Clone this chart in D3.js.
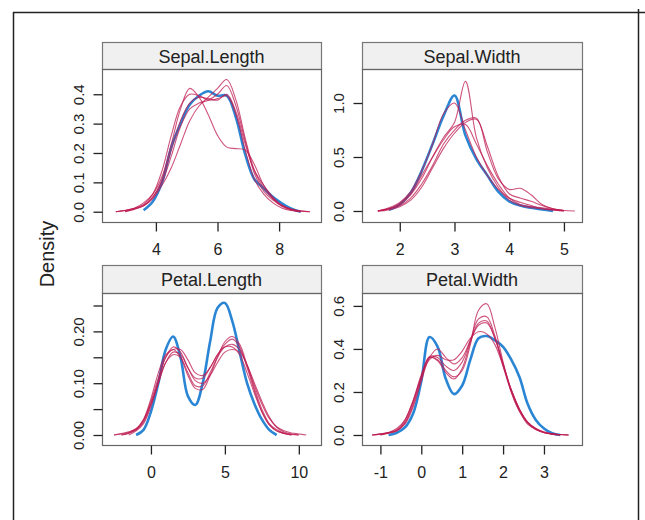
<!DOCTYPE html>
<html><head><meta charset="utf-8">
<script src="https://cdn.jsdelivr.net/npm/d3@7"></script>
<style>html,body{margin:0;padding:0;background:#fff;}svg{display:block;}</style>
</head><body>
<svg id="chart" width="645" height="520"></svg>
<script>
// ---------- DATA ----------
const panelNames = ["Sepal.Length", "Sepal.Width", "Petal.Length", "Petal.Width"];
const yLabel = "Density";

// Sepal.Length
const slX = [2.7,3.0,3.3,3.6,3.9,4.2,4.5,4.8,5.1,5.4,5.7,6.0,6.3,6.6,6.9,7.2,7.5,7.8,8.1,8.4,8.7,9.0];
const slObs = [null,null,null,0.005,0.035,0.10,0.22,0.30,0.365,0.395,0.41,0.395,0.395,0.32,0.195,0.11,0.08,0.05,0.028,0.01,0.0,null];
const slImp1 = [0.0,0.004,0.012,0.03,0.06,0.12,0.23,0.35,0.42,0.39,0.33,0.26,0.22,0.215,0.21,0.16,0.09,0.045,0.018,0.006,0.0,null];
const slImp2 = [null,0.0,0.01,0.02,0.045,0.09,0.15,0.23,0.31,0.36,0.39,0.42,0.45,0.38,0.25,0.14,0.08,0.045,0.02,0.008,0.003,0.0];
const slImp3 = [0.0,0.005,0.012,0.025,0.06,0.14,0.26,0.36,0.40,0.395,0.38,0.385,0.395,0.33,0.21,0.11,0.06,0.03,0.012,0.004,0.0,null];
const slImp4 = [null,0.0,0.008,0.02,0.05,0.10,0.19,0.29,0.35,0.37,0.38,0.40,0.43,0.36,0.24,0.13,0.07,0.04,0.02,0.008,0.002,0.0];
const slImp5 = [0.0,0.004,0.01,0.022,0.05,0.11,0.21,0.31,0.37,0.39,0.385,0.38,0.40,0.34,0.23,0.14,0.09,0.05,0.022,0.008,0.0,null];

// Sepal.Width
const swX = [1.6,1.8,2.0,2.2,2.4,2.6,2.8,3.0,3.2,3.4,3.6,3.8,4.0,4.2,4.4,4.6,4.8,5.0,5.2];
const swObs = [null,0.01,0.06,0.17,0.37,0.62,0.88,1.07,0.70,0.48,0.33,0.18,0.09,0.05,0.03,0.015,0.0,null,null];
const swImp1 = [0.0,0.02,0.06,0.15,0.30,0.50,0.68,0.82,1.20,0.68,0.40,0.22,0.10,0.05,0.03,0.02,0.01,0.0,null];
const swImp2 = [0.0,0.02,0.05,0.12,0.25,0.42,0.62,0.75,0.84,0.86,0.55,0.30,0.20,0.21,0.15,0.06,0.02,0.005,null];
const swImp3 = [0.0,0.03,0.08,0.18,0.37,0.62,0.90,1.00,0.75,0.50,0.33,0.20,0.12,0.08,0.05,0.02,0.01,0.0,null];
const swImp4 = [0.0,0.02,0.07,0.16,0.33,0.50,0.66,0.78,0.80,0.62,0.42,0.25,0.12,0.06,0.04,0.03,0.015,0.005,0.0];
const swImp5 = [0.0,0.01,0.04,0.10,0.22,0.40,0.58,0.72,0.82,0.85,0.60,0.32,0.16,0.12,0.09,0.05,0.02,0.005,null];

// Petal.Length
const plX = [-2.5,-2,-1.5,-1,-0.5,0,0.5,1,1.5,2,2.5,3,3.5,4,4.5,5,5.5,6,6.5,7,7.5,8,8.5,9,9.5,10,10.5];
const plObs = [null,null,null,0.0,0.01,0.045,0.10,0.165,0.19,0.15,0.075,0.058,0.10,0.18,0.245,0.255,0.22,0.16,0.10,0.06,0.03,0.01,0.0,null,null,null,null];
const plImp1 = [0.0,0.003,0.006,0.012,0.03,0.065,0.11,0.15,0.17,0.16,0.13,0.11,0.11,0.13,0.155,0.175,0.185,0.17,0.13,0.085,0.045,0.02,0.008,0.003,0.0,null,null];
const plImp2 = [null,0.0,0.004,0.01,0.025,0.06,0.105,0.15,0.165,0.15,0.115,0.09,0.088,0.115,0.15,0.18,0.19,0.175,0.135,0.09,0.05,0.022,0.01,0.004,0.001,0.0,null];
const plImp3 = [null,null,0.0,0.008,0.022,0.055,0.10,0.14,0.16,0.155,0.13,0.105,0.10,0.115,0.14,0.16,0.165,0.16,0.135,0.10,0.065,0.035,0.015,0.006,0.002,0.0,null];
const plImp4 = [0.0,0.002,0.005,0.012,0.03,0.07,0.12,0.155,0.165,0.165,0.145,0.12,0.115,0.13,0.155,0.17,0.17,0.155,0.12,0.08,0.045,0.02,0.008,0.003,0.0,null,null];
const plImp5 = [null,0.0,0.003,0.01,0.028,0.06,0.10,0.14,0.155,0.15,0.12,0.095,0.095,0.12,0.15,0.17,0.175,0.165,0.135,0.095,0.06,0.032,0.016,0.008,0.004,0.002,0.0];

// Petal.Width
const pwX = [-1.2,-1.0,-0.8,-0.6,-0.4,-0.2,0.0,0.2,0.4,0.6,0.8,1.0,1.2,1.4,1.6,1.8,2.0,2.2,2.4,2.6,2.8,3.0,3.2,3.4,3.6];
const pwObs = [null,null,0.0,0.01,0.035,0.10,0.25,0.455,0.41,0.26,0.19,0.23,0.35,0.45,0.46,0.44,0.41,0.35,0.27,0.145,0.07,0.03,0.008,0.0,null];
const pwImp1 = [0.0,0.005,0.01,0.02,0.06,0.15,0.27,0.36,0.35,0.30,0.27,0.30,0.42,0.58,0.61,0.50,0.34,0.20,0.11,0.05,0.025,0.012,0.005,0.002,0.0];
const pwImp2 = [0.0,0.004,0.012,0.025,0.07,0.16,0.28,0.365,0.36,0.32,0.30,0.34,0.44,0.54,0.55,0.46,0.32,0.20,0.11,0.055,0.025,0.01,0.004,0.0,null];
const pwImp3 = [null,0.0,0.008,0.02,0.05,0.13,0.25,0.36,0.40,0.36,0.33,0.36,0.44,0.51,0.52,0.45,0.33,0.21,0.12,0.06,0.028,0.012,0.005,0.002,0.0];
const pwImp4 = [0.0,0.005,0.012,0.03,0.07,0.16,0.27,0.35,0.37,0.35,0.35,0.39,0.45,0.48,0.47,0.42,0.32,0.21,0.12,0.06,0.03,0.012,0.004,0.0,null];
const pwImp5 = [null,0.0,0.01,0.02,0.055,0.14,0.26,0.36,0.345,0.29,0.26,0.31,0.43,0.52,0.53,0.45,0.33,0.21,0.12,0.06,0.03,0.015,0.006,0.002,0.0];

// tick values and labels
const slXTicks = [4,6,8], slXLabels = ["4","6","8"];
const slYTicks = [0,0.1,0.2,0.3,0.4], slYLabels = ["0.0","0.1","0.2","0.3","0.4"];
const swXTicks = [2,3,4,5], swXLabels = ["2","3","4","5"];
const swYTicks = [0,0.5,1.0], swYLabels = ["0.0","0.5","1.0"];
const plXTicks = [0,5,10], plXLabels = ["0","5","10"];
const plYTicks = [0,0.05,0.10,0.15,0.20,0.25], plYLabels = ["0.00","","0.10","","0.20",""];
const pwXTicks = [-1,0,1,2,3], pwXLabels = ["-1","0","1","2","3"];
const pwYTicks = [0,0.2,0.4,0.6], pwYLabels = ["0.0","0.2","0.4","0.6"];

// ---------- LAYOUT ----------
const svg = d3.select("#chart");
const FONT = "'Liberation Sans', Arial, sans-serif";
const obsColor = "#2a86d4";
const impColor = "rgba(190,25,80,0.75)";

// outer frame
svg.append("line").attr("x1",13).attr("x2",645).attr("y1",12.5).attr("y2",12.5).attr("stroke","#222").attr("stroke-width",1.5);
svg.append("line").attr("x1",13.5).attr("x2",13.5).attr("y1",12).attr("y2",520).attr("stroke","#222").attr("stroke-width",1.5);
svg.append("line").attr("x1",638.5).attr("x2",638.5).attr("y1",9).attr("y2",520).attr("stroke","#222").attr("stroke-width",1.5);

const panels = [
  {name: panelNames[0], x0:102, x1:321, sTop:42, pTop:69, pBot:222, xd:[2.25,9.36], yd:[-0.035,0.486],
   xs: slX, obs: slObs, imps:[slImp1,slImp2,slImp3,slImp4,slImp5], xt: slXTicks, xl: slXLabels, yt: slYTicks, yl: slYLabels},
  {name: panelNames[1], x0:362, x1:582, sTop:42, pTop:69, pBot:222, xd:[1.31,5.33], yd:[-0.102,1.315],
   xs: swX, obs: swObs, imps:[swImp1,swImp2,swImp3,swImp4,swImp5], xt: swXTicks, xl: swXLabels, yt: swYTicks, yl: swYLabels},
  {name: panelNames[2], x0:102, x1:321, sTop:265, pTop:293, pBot:445, xd:[-3.31,11.5], yd:[-0.0193,0.2741],
   xs: plX, obs: plObs, imps:[plImp1,plImp2,plImp3,plImp4,plImp5], xt: plXTicks, xl: plXLabels, yt: plYTicks, yl: plYLabels},
  {name: panelNames[3], x0:362, x1:582, sTop:265, pTop:293, pBot:445, xd:[-1.45,3.93], yd:[-0.0465,0.660],
   xs: pwX, obs: pwObs, imps:[pwImp1,pwImp2,pwImp3,pwImp4,pwImp5], xt: pwXTicks, xl: pwXLabels, yt: pwYTicks, yl: pwYLabels}
];

panels.forEach(p => {
  const g = svg.append("g");
  const x = d3.scaleLinear().domain(p.xd).range([p.x0, p.x1]);
  const y = d3.scaleLinear().domain(p.yd).range([p.pBot, p.pTop]);

  // strip
  g.append("rect").attr("x",p.x0+0.5).attr("y",p.sTop+0.5).attr("width",p.x1-p.x0).attr("height",p.pTop-p.sTop)
    .attr("fill","#f0f0f0").attr("stroke","#777").attr("stroke-width",1.2);
  g.append("text").attr("x",(p.x0+p.x1)/2).attr("y",(p.sTop+p.pTop)/2+1).attr("text-anchor","middle")
    .attr("dominant-baseline","central").attr("font-family",FONT).attr("font-size",18).attr("fill","#222").text(p.name);

  // clip
  const cid = "clip" + p.name.replace(".","");
  svg.append("clipPath").attr("id",cid).append("rect").attr("x",p.x0).attr("y",p.pTop).attr("width",p.x1-p.x0).attr("height",p.pBot-p.pTop);

  const line = d3.line().defined(d => d[1] != null).x(d => x(d[0])).y(d => y(d[1])).curve(d3.curveCatmullRom.alpha(0.5));
  const lg = g.append("g").attr("clip-path",`url(#${cid})`);
  lg.append("path").datum(p.xs.map((v,i)=>[v,p.obs[i]])).attr("d",line).attr("fill","none")
    .attr("stroke",obsColor).attr("stroke-width",2.6).attr("stroke-linejoin","round");
  p.imps.forEach(arr => {
    lg.append("path").datum(p.xs.map((v,i)=>[v,arr[i]])).attr("d",line).attr("fill","none")
      .attr("stroke",impColor).attr("stroke-width",1.1);
  });

  // panel box
  g.append("rect").attr("x",p.x0+0.5).attr("y",p.pTop+0.5).attr("width",p.x1-p.x0).attr("height",p.pBot-p.pTop)
    .attr("fill","none").attr("stroke","#666").attr("stroke-width",1.2);

  // x axis
  const xa = d3.axisBottom(x).tickValues(p.xt).tickSize(9).tickPadding(12).tickFormat((d,i)=>p.xl[i]);
  const xg = g.append("g").attr("transform",`translate(0,${p.pBot+0.5})`).call(xa);
  xg.select(".domain").remove();
  xg.selectAll(".tick line").attr("stroke","#222").attr("stroke-width",1.3);
  xg.selectAll(".tick text").attr("font-family",FONT).attr("font-size",16).attr("fill","#222");

  // y axis
  const ya = d3.axisLeft(y).tickValues(p.yt).tickSize(9).tickFormat((d,i)=>p.yl[i]);
  const yg = g.append("g").attr("transform",`translate(${p.x0+0.5},0)`).call(ya);
  yg.select(".domain").remove();
  yg.selectAll(".tick line").attr("stroke","#222").attr("stroke-width",1.3);
  yg.selectAll(".tick text").attr("font-family",FONT).attr("font-size",15).attr("fill","#222")
    .attr("x",null).attr("dy",null).attr("text-anchor","middle").attr("dominant-baseline","central")
    .attr("transform","translate(-24,0) rotate(-90)");
});

// y label
svg.append("text").attr("transform","translate(47,254) rotate(-90)").attr("text-anchor","middle")
  .attr("dominant-baseline","central").attr("font-family",FONT).attr("font-size",20).attr("fill","#222").text(yLabel);
</script>
</body></html>
